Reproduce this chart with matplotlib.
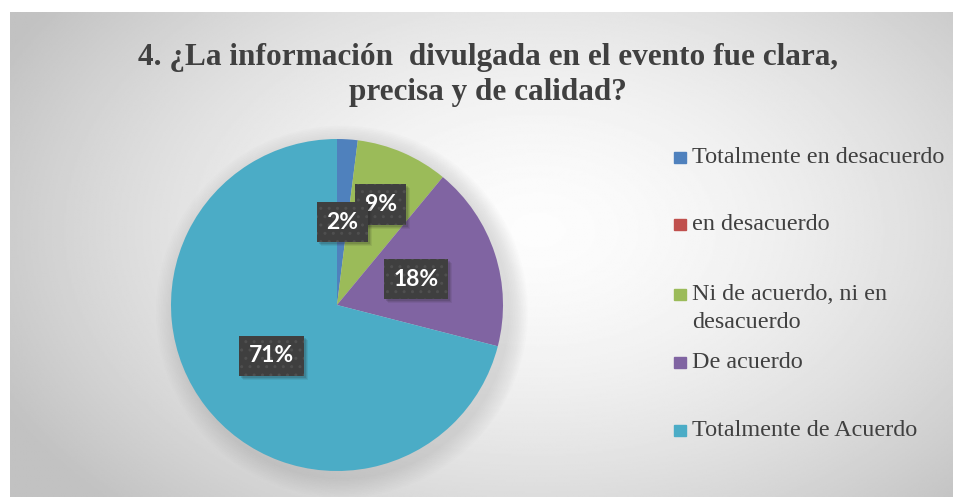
import numpy as np
import matplotlib.pyplot as plt
from matplotlib.patches import Rectangle, Circle

# survey answers, share of respondents (%)
categories = ["Totalmente en desacuerdo", "en desacuerdo",
              "Ni de acuerdo, ni en\ndesacuerdo", "De acuerdo",
              "Totalmente de Acuerdo"]
values = [2, 0, 9, 18, 71]
colors = ["#4F81BD", "#C0504D", "#9BBB59", "#8064A2", "#4BACC6"]

title = "4. ¿La información  divulgada en el evento fue clara,\nprecisa y de calidad?"

W, H = 956, 497
fig = plt.figure(figsize=(W / 100, H / 100), dpi=100)
fig.patch.set_facecolor("white")

# chart area with a soft radial gradient
bg = fig.add_axes([10 / W, 0, 943 / W, 485 / H])
yy, xx = np.mgrid[0:1:300j, 0:1:600j]
d = np.sqrt(((xx - 0.56) / 0.75) ** 2 + ((yy - 0.45) / 0.95) ** 2)
shade = np.clip(0.99 - 0.30 * d ** 1.6, 0.76, 1.0)
bg.imshow(shade, cmap="gray", vmin=0, vmax=1, aspect="auto",
          extent=[0, 1, 0, 1], origin="upper")
bg.set_axis_off()

fig.text(488 / W, 1 - 75 / H, title, ha="center", va="center",
         fontsize=22.5, fontweight="bold", family="Liberation Serif",
         color="#404040", linespacing=1.3)

# pie
cx, cy, r = 337, 305, 166
ax = fig.add_axes([(cx - r) / W, (H - cy - r) / H, 2 * r / W, 2 * r / H])
ax.set_facecolor("none")

# soft halo behind the pie
for k in range(12):
    ax.add_patch(Circle((0.03, -0.04), 1.0 + 0.01 * (12 - k),
                        color="#808080", alpha=0.018, lw=0, zorder=0,
                        clip_on=False))

wedges, _ = ax.pie(values, colors=colors, startangle=90, counterclock=False,
                   radius=1.0, wedgeprops=dict(linewidth=0))
for w in wedges:
    w.set_zorder(2)
ax.set_xlim(-1, 1)
ax.set_ylim(-1, 1)
ax.set_aspect("equal")
ax.set_axis_off()

# data labels in dark boxes
label_dist = [0.5, 0.5, 0.66, 0.5, 0.5]
labels = []
for i, (w, v, ld) in enumerate(zip(wedges, values, label_dist)):
    if v == 0:
        continue
    ang = np.deg2rad((w.theta1 + w.theta2) / 2)
    x, y = ld * np.cos(ang), ld * np.sin(ang)
    t = ax.text(x, y, f"{v}%", ha="center", va="center", fontsize=16.5,
                fontweight="bold", family="Lato", color="white",
                zorder=10 - i,
                bbox=dict(boxstyle="square,pad=0.42", fc="#3f3f3f",
                          ec="#4f4f4f", lw=0, hatch=".."))
    labels.append(t)

# drop shadows under the label boxes
fig.canvas.draw()
for t in labels:
    bb = t.get_bbox_patch().get_window_extent()
    for k, a in enumerate([0.08, 0.10, 0.14]):
        off = 4 - k
        ax.add_patch(Rectangle(((bb.x0 + off) / W, (bb.y0 - off) / H),
                               bb.width / W, bb.height / H,
                               transform=fig.transFigure, fc="#202020",
                               ec="none", alpha=a, zorder=t.get_zorder() - 0.5,
                               clip_on=False))

# legend on the right
leg_base = [163, 230, 300, 368, 436]
for name, col, lb in zip(categories, colors, leg_base):
    fig.patches.append(Rectangle((674 / W, (H - lb) / H), 11.5 / W, 11.5 / H,
                                 transform=fig.transFigure, color=col,
                                 figure=fig))
    lines = name.split("\n")
    for i, line in enumerate(lines):
        fig.text(692 / W, (H - lb - 28 * i) / H, line, ha="left",
                 va="baseline", fontsize=17.4, family="Liberation Serif",
                 color="#404040")

fig.savefig("out.png", dpi=100)
